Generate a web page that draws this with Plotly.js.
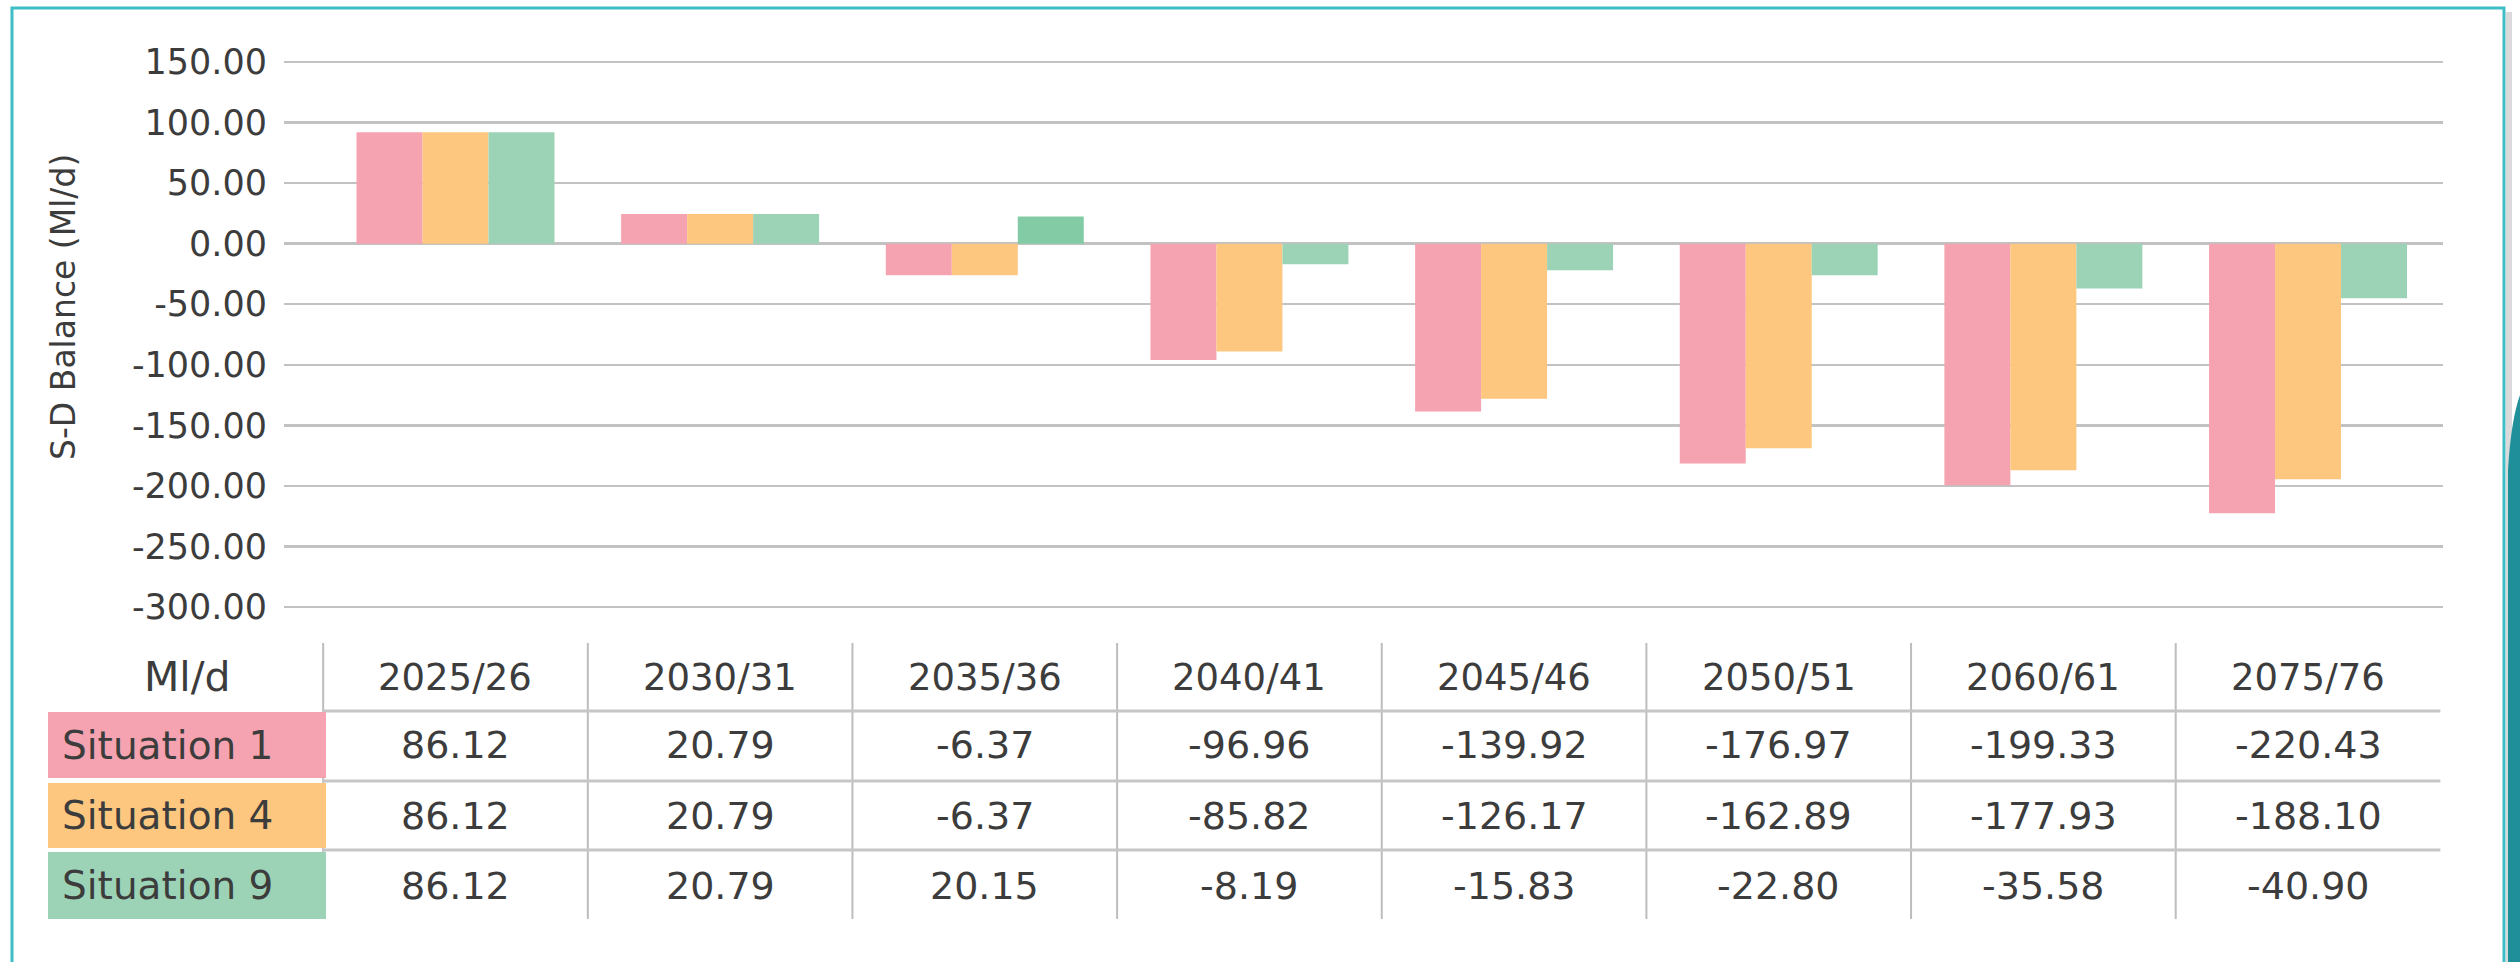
<!DOCTYPE html>
<html><head><meta charset="utf-8">
<script src="https://cdn.plot.ly/plotly-3.0.1.min.js"></script>
<style>html,body{margin:0;padding:0;background:#fff;}#chart{width:2520px;height:962px;}</style>
</head><body><div id="chart"></div>
<script>
// ---- data ----
const categories = ['2025/26','2030/31','2035/36','2040/41','2045/46','2050/51','2060/61','2075/76'];
const seriesNames = ['Situation 1','Situation 4','Situation 9'];
// bar heights as drawn in the chart
const barsSituation1 = [92, 24.5, -26, -96, -138.5, -181.5, -199.5, -222.5];
const barsSituation4 = [92, 24.5, -26, -89, -128, -169, -187, -194.5];
const barsSituation9 = [92, 24.5, 22.5, -17, -22, -26, -37, -45];
// values printed in the table under the chart
const tableSituation1 = ['86.12','20.79','-6.37','-96.96','-139.92','-176.97','-199.33','-220.43'];
const tableSituation4 = ['86.12','20.79','-6.37','-85.82','-126.17','-162.89','-177.93','-188.10'];
const tableSituation9 = ['86.12','20.79','20.15','-8.19','-15.83','-22.80','-35.58','-40.90'];
const tableCorner = 'Ml/d';
const yTitle = 'S-D Balance (Ml/d)';
const yTickValues = [150,100,50,0,-50,-100,-150,-200,-250,-300];
const yTickLabels = ['150.00','100.00','50.00','0.00','-50.00','-100.00','-150.00','-200.00','-250.00','-300.00'];

// ---- styling / layout ----
const W = 2520, H = 962;
const PL = 284, PR = 2443;
const Y_TOP = 152, Y_BOT = -302;           // axis range, slightly padded so edge gridlines show
const PX_PER_UNIT = 545 / 450;             // 150 -> 62px, -300 -> 607px
const PT = 62 - (Y_TOP - 150) * PX_PER_UNIT;
const PB = 607 + (-300 - Y_BOT) * PX_PER_UNIT;
const px = v => v / W;
const py = v => 1 - v / H;
const colors = ['#F5A3B0', '#FDC77F', '#9CD3B7'];
const greenAlt = '#82CBA4';
const FONT = 'DejaVu Sans, sans-serif';
const TXT = '#3c3c3c';

const seriesBars = [barsSituation1, barsSituation4, barsSituation9];
const seriesTable = [tableSituation1, tableSituation4, tableSituation9];

const traces = seriesBars.map((vals, k) => ({
  type: 'bar',
  name: seriesNames[k],
  x: categories,
  y: vals,
  marker: {
    color: k === 2 ? vals.map((v, i) => (i === 2 ? greenAlt : colors[2])) : colors[k],
    line: {width: 0}
  },
  hoverinfo: 'x+y+name'
}));

const shapes = [];
const annotations = [];

// y-axis title
annotations.push({
  xref: 'paper', yref: 'paper', x: px(64), y: py(307), text: yTitle, showarrow: false,
  textangle: -90, xanchor: 'center', yanchor: 'middle',
  font: {family: FONT, size: 33, color: TXT}
});

// table geometry (pixels)
const headerY = 677;
const rowBands = [[712, 778], [783, 848], [852, 919]];
const rowLines = [711, 781, 850];
const tableTop = 643, tableBottom = 919;

// vertical separators at category boundaries
for (let i = 0; i < categories.length; i++) {
  shapes.push({type: 'line', xref: 'x', yref: 'paper', x0: i - 0.5, x1: i - 0.5,
    y0: py(tableTop), y1: py(tableBottom), line: {color: '#bdbdbd', width: 2}, layer: 'above'});
}
// horizontal separators
rowLines.forEach(yy => {
  shapes.push({type: 'line', xref: 'x', yref: 'paper', x0: -0.5, x1: categories.length - 0.5,
    y0: py(yy), y1: py(yy), line: {color: '#c6c6c6', width: 3}, layer: 'above'});
});
// label cells
rowBands.forEach((b, k) => {
  shapes.push({type: 'rect', xref: 'paper', yref: 'paper', x0: px(48), x1: px(326),
    y0: py(b[1]), y1: py(b[0]), fillcolor: colors[k], line: {width: 0}, layer: 'above'});
  annotations.push({xref: 'paper', yref: 'paper', x: px(60), y: py((b[0] + b[1]) / 2),
    text: seriesNames[k], showarrow: false, xanchor: 'left', yanchor: 'middle',
    font: {family: FONT, size: 39, color: TXT}});
});
annotations.push({xref: 'paper', yref: 'paper', x: px(187), y: py(headerY), text: tableCorner,
  showarrow: false, xanchor: 'center', yanchor: 'middle', font: {family: FONT, size: 41, color: TXT}});
// header & values
categories.forEach((c, i) => {
  annotations.push({xref: 'x', yref: 'paper', x: i, y: py(headerY), text: c, showarrow: false,
    xanchor: 'center', yanchor: 'middle', font: {family: FONT, size: 37, color: TXT}});
  seriesTable.forEach((arr, k) => {
    const b = rowBands[k];
    annotations.push({xref: 'x', yref: 'paper', x: i, y: py((b[0] + b[1]) / 2), text: arr[i],
      showarrow: false, xanchor: 'center', yanchor: 'middle', font: {family: FONT, size: 38, color: TXT}});
  });
});

// outer teal frame
shapes.push({type: 'rect', xref: 'paper', yref: 'paper', x0: px(12), x1: px(2504), y0: py(980), y1: py(8),
  line: {color: '#3FBEC7', width: 3}, fillcolor: 'rgba(0,0,0,0)', layer: 'below'});
// soft shadow right of the frame
shapes.push({type: 'rect', xref: 'paper', yref: 'paper', x0: px(2506), x1: px(2512), y0: py(962), y1: py(12),
  line: {width: 0}, fillcolor: 'rgba(150,150,150,0.35)', layer: 'below'});
// teal decoration at the right edge
shapes.push({type: 'path', xref: 'paper', yref: 'paper',
  path: `M ${px(2508)} ${py(962)} L ${px(2508)} ${py(470)} Q ${px(2511)} ${py(420)} ${px(2520)} ${py(395)} L ${px(2520)} ${py(962)} Z`,
  fillcolor: '#1F8F9A', line: {width: 0}, layer: 'above'});

const layout = {
  width: W, height: H,
  margin: {l: 0, r: 0, t: 0, b: 0, pad: 0},
  paper_bgcolor: '#ffffff', plot_bgcolor: '#ffffff',
  showlegend: false,
  barmode: 'group', bargap: 0.252, bargroupgap: 0,
  xaxis: {
    domain: [px(PL), px(PR)], range: [-0.648, 7.51], type: 'category',
    showticklabels: false, showgrid: false, zeroline: false, showline: false, ticks: ''
  },
  yaxis: {
    domain: [py(PB), py(PT)], range: [Y_BOT, Y_TOP],
    tickmode: 'array', tickvals: yTickValues, ticktext: yTickLabels,
    showgrid: true, gridcolor: '#c2c2c2', gridwidth: 2.5,
    zeroline: false, showline: false, ticks: '', ticklabelstandoff: 16,
    tickfont: {family: FONT, size: 35, color: TXT}
  },
  shapes: shapes,
  annotations: annotations
};

Plotly.newPlot('chart', traces, layout, {displayModeBar: false, staticPlot: true});
</script></body></html>
